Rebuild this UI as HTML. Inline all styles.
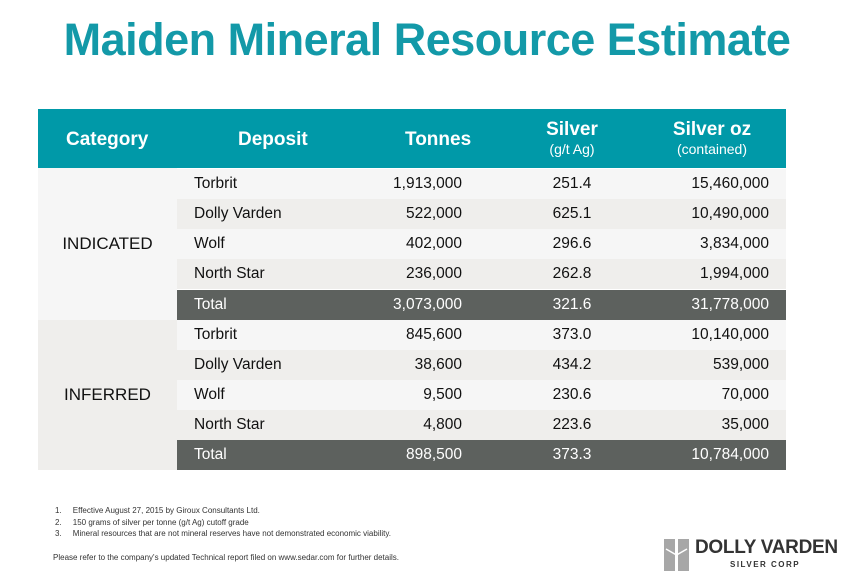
<!DOCTYPE html>
<html><head><meta charset="utf-8"><style>
body{margin:0;width:854px;height:585px;background:#fff;font-family:"Liberation Sans",sans-serif;position:relative;overflow:hidden}
.title{position:absolute;left:0;width:854px;top:14px;text-align:center;color:#1399a8;font-size:45px;font-weight:bold;letter-spacing:-0.5px}
.tbl{position:absolute;left:38px;top:109px;width:748px}
.hdr{position:absolute;left:0;top:0;width:748px;height:59px;background:#0099a8;color:#fff;font-weight:bold;font-size:19px}
.hdr div{position:absolute}
.cat{position:absolute;left:0;width:139px;background:#f6f6f6;font-size:17px;color:#111;text-align:center}
.row{position:absolute;left:139px;width:609px;height:30px;font-size:15.5px;color:#111;line-height:30px}
.row div{position:absolute;top:0}
.r0{background:#f6f6f6}.r1{background:#efeeec}
.tot{background:#5d615e;color:#fff}
.d{left:17px}.t{right:324px}.s{left:355px;width:80px;text-align:center}.o{right:17px}
.notes{position:absolute;left:55px;top:505px;font-size:8px;color:#333;line-height:11.5px}
</style></head><body>
<div class="title">Maiden Mineral Resource Estimate</div>
<div class="tbl">
<div class="hdr">
<div style="left:28px;top:20px">Category</div>
<div style="left:200px;top:20px">Deposit</div>
<div style="left:367px;top:20px">Tonnes</div>
<div style="left:484px;top:10px;width:100px;text-align:center">Silver<div style="position:static;font-size:14px;font-weight:normal">(g/t Ag)</div></div>
<div style="left:614px;top:10px;width:120px;text-align:center">Silver oz<div style="position:static;font-size:14px;font-weight:normal">(contained)</div></div>
</div>
<div class="cat" style="top:59px;height:152px;line-height:152px">INDICATED</div>
<div class="cat" style="top:211px;height:150px;line-height:150px;background:#efeeec">INFERRED</div>

<div class="row r0" style="top:60px"><div class="d">Torbrit</div><div class="t">1,913,000</div><div class="s">251.4</div><div class="o">15,460,000</div></div>
<div class="row r1" style="top:90px"><div class="d">Dolly Varden</div><div class="t">522,000</div><div class="s">625.1</div><div class="o">10,490,000</div></div>
<div class="row r0" style="top:120px"><div class="d">Wolf</div><div class="t">402,000</div><div class="s">296.6</div><div class="o">3,834,000</div></div>
<div class="row r1" style="top:150px"><div class="d">North Star</div><div class="t">236,000</div><div class="s">262.8</div><div class="o">1,994,000</div></div>
<div class="row tot" style="top:181px"><div class="d">Total</div><div class="t">3,073,000</div><div class="s">321.6</div><div class="o">31,778,000</div></div>

<div class="row r0" style="top:211px"><div class="d">Torbrit</div><div class="t">845,600</div><div class="s">373.0</div><div class="o">10,140,000</div></div>
<div class="row r1" style="top:241px"><div class="d">Dolly Varden</div><div class="t">38,600</div><div class="s">434.2</div><div class="o">539,000</div></div>
<div class="row r0" style="top:271px"><div class="d">Wolf</div><div class="t">9,500</div><div class="s">230.6</div><div class="o">70,000</div></div>
<div class="row r1" style="top:301px"><div class="d">North Star</div><div class="t">4,800</div><div class="s">223.6</div><div class="o">35,000</div></div>
<div class="row tot" style="top:331px"><div class="d">Total</div><div class="t">898,500</div><div class="s">373.3</div><div class="o">10,784,000</div></div>
</div>

<div class="notes">
<div>1.&nbsp;&nbsp;&nbsp;&nbsp;&nbsp;Effective August 27, 2015 by Giroux Consultants Ltd.</div>
<div>2.&nbsp;&nbsp;&nbsp;&nbsp;&nbsp;150 grams of silver per tonne (g/t Ag) cutoff grade</div>
<div>3.&nbsp;&nbsp;&nbsp;&nbsp;&nbsp;Mineral resources that are not mineral reserves have not demonstrated economic viability.</div>
<div style="margin-top:12px;margin-left:-2px">Please refer to the company's updated Technical report filed on www.sedar.com for further details.</div>
</div>

<div style="position:absolute;left:664px;top:537px;width:180px;height:36px">
<svg width="26" height="32" style="position:absolute;left:0;top:2px"><rect x="0" y="0" width="11" height="32" fill="#a7a7a7"/><rect x="14" y="0" width="11" height="32" fill="#a7a7a7"/><path d="M2 10 L12.5 16 L23 10 M12.5 16 V32" stroke="#fff" stroke-width="1.5" fill="none"/></svg>
<div style="position:absolute;left:31px;top:0;font-size:19px;font-weight:bold;color:#333;letter-spacing:-0.3px">DOLLY VARDEN</div>
<div style="position:absolute;left:66px;top:23px;font-size:8px;font-weight:bold;color:#333;letter-spacing:1.5px">SILVER CORP</div>
</div>
</body></html>
